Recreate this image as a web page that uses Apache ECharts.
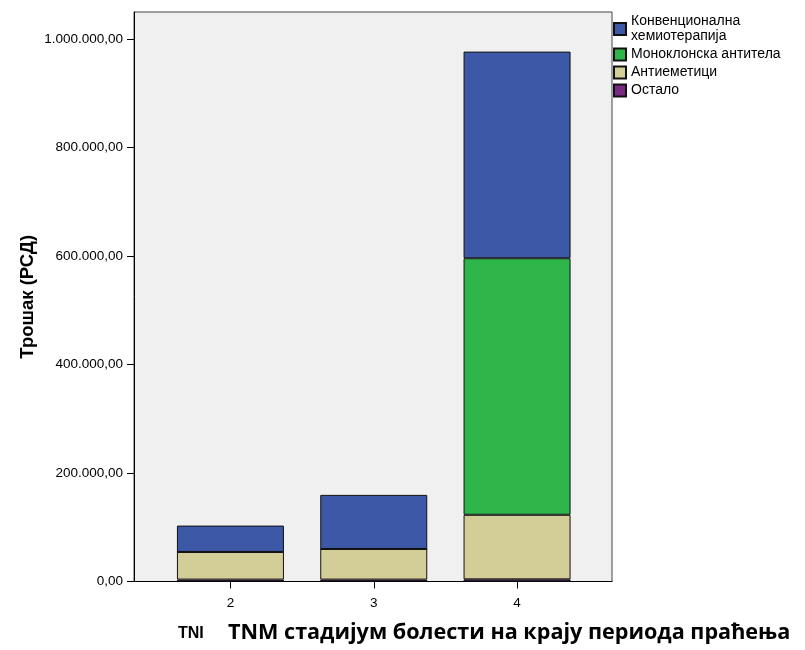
<!DOCTYPE html>
<html>
<head>
<meta charset="utf-8">
<script src="https://cdn.jsdelivr.net/npm/echarts@6/dist/echarts.min.js"></script>
<style>
html,body{margin:0;padding:0;background:#fff;}
#chart{width:805px;height:650px;}
</style>
</head>
<body>
<div id="chart"></div>
<script>
// Categories (TNM stage)
var categories = ['2', '3', '4'];
// Series values (bottom to top of stack)
var ostalo         = [3500, 3500, 4000];
var antiemetici    = [51000, 56500, 119000];
var monoklonska    = [0, 0, 473000];
var konvencionalna = [48600, 99700, 381000];
// Tick values (labels formatted as 1.000.000,00)
var yTicks = [0, 200000, 400000, 600000, 800000, 1000000];

var names = {
  konv: 'Конвенционална хемиотерапија',
  mono: 'Моноклонска антитела',
  anti: 'Антиеметици',
  ost: 'Остало'
};

function fmt(v) {
  var s = Math.round(v).toString().replace(/\B(?=(\d{3})+(?!\d))/g, '.');
  return s + ',00';
}

var font = 'Liberation Sans, Arial, sans-serif';
var Y_MAX = 1050000;
var chart = echarts.init(document.getElementById('chart'), null, {renderer: 'canvas'});

function bar(name, data, color) {
  return {
    name: name,
    type: 'bar',
    stack: 'total',
    xAxisIndex: 1,
    yAxisIndex: 1,
    barWidth: 107,
    data: data,
    itemStyle: {color: color, borderColor: '#111', borderWidth: 1},
    emphasis: {disabled: true}
  };
}

chart.setOption({
  animation: false,
  backgroundColor: '#fff',
  grid: [
    {
      left: 134, right: 193, top: 12, bottom: 68.5,
      show: true, backgroundColor: '#f0f0f0', borderColor: '#444', borderWidth: 1
    },
    {
      left: 158.8, right: 216.3, top: 12, bottom: 68.5
    }
  ],
  legend: {
    orient: 'vertical',
    left: 608, top: 9,
    itemWidth: 12, itemHeight: 12, itemGap: 3,
    icon: 'rect',
    data: [names.konv, names.mono, names.anti, names.ost],
    formatter: function (n) {
      return n === names.konv ? 'Конвенционална\nхемиотерапија' : n;
    },
    textStyle: {fontFamily: font, fontSize: 14, color: '#000', lineHeight: 15}
  },
  xAxis: [
    {
      gridIndex: 0, type: 'value', min: 0, max: 1,
      axisLine: {show: true, lineStyle: {color: '#000', width: 1}},
      axisTick: {show: false}, axisLabel: {show: false}, splitLine: {show: false}
    },
    {
      gridIndex: 1, type: 'category', data: categories,
      axisLine: {show: false},
      axisTick: {show: true, length: 7, alignWithLabel: true, lineStyle: {color: '#000'}},
      axisLabel: {color: '#000', fontFamily: font, fontSize: 13.5, margin: 15},
      splitLine: {show: false}
    }
  ],
  yAxis: [
    {
      gridIndex: 0, type: 'value', min: 0, max: Y_MAX,
      name: 'Трошак (РСД)',
      nameLocation: 'middle',
      nameGap: 97,
      nameMoveOverlap: false,
      nameTextStyle: {fontFamily: font, fontSize: 18.5, fontWeight: 'bold', color: '#000'},
      axisLine: {show: true, lineStyle: {color: '#000', width: 1}},
      axisTick: {show: true, length: 7, customValues: yTicks, lineStyle: {color: '#000'}},
      axisLabel: {
        customValues: yTicks, color: '#000', fontFamily: font, fontSize: 13.5, margin: 11,
        formatter: fmt
      },
      splitLine: {show: false}
    },
    {
      gridIndex: 1, type: 'value', min: 0, max: Y_MAX,
      axisLine: {show: false}, axisTick: {show: false}, axisLabel: {show: false}, splitLine: {show: false}
    }
  ],
  graphic: [
    {
      type: 'text', left: 178, top: 626,
      style: {text: 'TNI', fontFamily: font, fontSize: 16, fontWeight: 'bold', fill: '#000'}
    },
    {
      type: 'text', left: 228, top: 622,
      style: {text: 'TNM стадијум болести на крају периода праћења', fontFamily: 'Open Sans, sans-serif', fontSize: 21.6, fontWeight: 'bold', fill: '#000'}
    }
  ],
  series: [
    bar(names.ost, ostalo, '#7b2a83'),
    bar(names.anti, antiemetici, '#d3ce97'),
    bar(names.mono, monoklonska, '#2fb64a'),
    bar(names.konv, konvencionalna, '#3e58a8')
  ]
});
</script>
</body>
</html>
